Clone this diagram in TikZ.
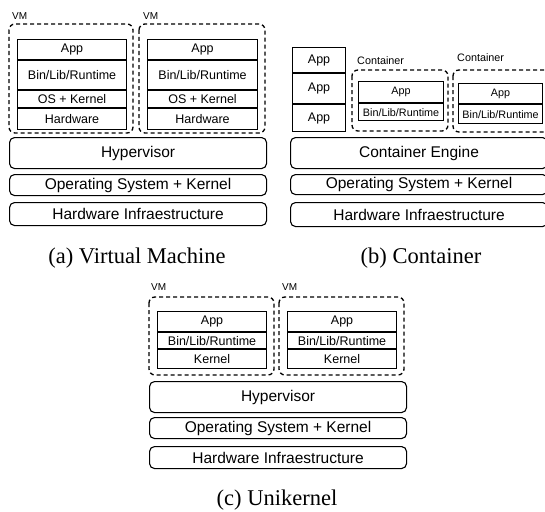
\documentclass[tikz,border=0pt]{standalone}
\usepackage{fontspec}
\setmainfont{Liberation Serif}
\setsansfont{Liberation Sans}
\usetikzlibrary{positioning}
\tikzset{
  layer/.style={draw, rounded corners=5pt, inner sep=0pt, line width=1.1pt,
    minimum width=257pt, font=\sffamily\fontsize{15.5}{17}\selectfont},
  cell/.style={draw, rectangle, inner sep=0pt, line width=1.1pt,
    font=\sffamily\fontsize{12.5}{14}\selectfont},
  ccell/.style={cell, font=\sffamily\fontsize{10.8}{12}\selectfont},
  vmbox/.style={draw, rounded corners=6pt, line width=1.3pt,
    dash pattern=on 4pt off 3pt},
  tag/.style={anchor=west, inner sep=0pt, font=\sffamily\fontsize{10}{11}\selectfont},
  ctag/.style={tag, font=\sffamily\fontsize{10.8}{12}\selectfont},
  caption/.style={font=\fontsize{22.5}{25}\selectfont}
}
\begin{document}
\begin{tikzpicture}[x=1pt, y=-1pt]
  \useasboundingbox (0,0) rectangle (545,511);

  % (a) virtual machine
  \draw[vmbox] (9,24) rectangle (133,133);
  \draw[vmbox] (139,24) rectangle (265,133);
  \node (vm_a1) [tag] at (12,16) {VM};
  \node (vm_a2) [tag] at (143,16) {VM};

  \node (app_a1) [cell, minimum width=109pt, minimum height=20pt, anchor=north west] at (17,39) {App};
  \node (bin_a1) [cell, minimum width=109pt, minimum height=29pt, below=0pt of app_a1] {Bin/Lib/Runtime};
  \node (os_a1) [cell, minimum width=109pt, minimum height=17pt, below=0pt of bin_a1] {OS + Kernel};
  \node (hw_a1) [cell, minimum width=109pt, minimum height=21pt, below=0pt of os_a1] {Hardware};

  \node (app_a2) [cell, minimum width=110pt, minimum height=20pt, anchor=north west] at (147,39) {App};
  \node (bin_a2) [cell, minimum width=110pt, minimum height=29pt, below=0pt of app_a2] {Bin/Lib/Runtime};
  \node (os_a2) [cell, minimum width=110pt, minimum height=17pt, below=0pt of bin_a2] {OS + Kernel};
  \node (hw_a2) [cell, minimum width=110pt, minimum height=21pt, below=0pt of os_a2] {Hardware};

  \node (hyp_a) [layer, minimum height=31pt, anchor=north west] at (9,137) {Hypervisor};
  \node (sys_a) [layer, minimum height=21pt, anchor=north west] at (9,174) {Operating System + Kernel};
  \node (infra_a) [layer, minimum height=23pt, anchor=north west] at (9,202) {Hardware Infraestructure};

  \node (cap_a) [caption] at (137,258) {(a) Virtual Machine};

  % (b) container
  \node (app_b1) [cell, minimum width=53pt, minimum height=25pt, anchor=north west] at (292,47) {App};
  \node (app_b2) [cell, minimum width=53pt, minimum height=30pt, below=0pt of app_b1] {App};
  \node (app_b3) [cell, minimum width=53pt, minimum height=27pt, below=0pt of app_b2] {App};

  \draw[vmbox] (352,70) rectangle (448,131);
  \draw[vmbox] (453,70) rectangle (552,132);
  \node (ct_b1) [ctag] at (357,61) {Container};
  \node (ct_b2) [ctag] at (457,58) {Container};

  \node (capp_b1) [ccell, minimum width=85pt, minimum height=21pt, anchor=north west] at (358,81) {App};
  \node (cbin_b1) [ccell, minimum width=85pt, minimum height=17pt, below=0pt of capp_b1] {Bin/Lib/Runtime};
  \node (capp_b2) [ccell, minimum width=84pt, minimum height=20pt, anchor=north west] at (458,83) {App};
  \node (cbin_b2) [ccell, minimum width=84pt, minimum height=19pt, below=0pt of capp_b2] {Bin/Lib/Runtime};

  \node (eng_b) [layer, minimum height=31pt, anchor=north west] at (290,137) {Container Engine};
  \node (sys_b) [layer, minimum height=20pt, anchor=north west] at (290,174) {Operating System + Kernel};
  \node (infra_b) [layer, minimum height=24pt, anchor=north west] at (290,202) {Hardware Infraestructure};

  \node (cap_b) [caption] at (421,258) {(b) Container};

  % (c) unikernel
  \draw[vmbox] (149,297) rectangle (274,375);
  \draw[vmbox] (279,297) rectangle (404,375);
  \node (vm_c1) [tag] at (151,287) {VM};
  \node (vm_c2) [tag] at (282,287) {VM};

  \node (app_c1) [cell, minimum width=109pt, minimum height=20pt, anchor=north west] at (157,311) {App};
  \node (bin_c1) [cell, minimum width=109pt, minimum height=16pt, below=0pt of app_c1] {Bin/Lib/Runtime};
  \node (ker_c1) [cell, minimum width=109pt, minimum height=19pt, below=0pt of bin_c1] {Kernel};

  \node (app_c2) [cell, minimum width=109pt, minimum height=20pt, anchor=north west] at (287,311) {App};
  \node (bin_c2) [cell, minimum width=109pt, minimum height=16pt, below=0pt of app_c2] {Bin/Lib/Runtime};
  \node (ker_c2) [cell, minimum width=109pt, minimum height=19pt, below=0pt of bin_c2] {Kernel};

  \node (hyp_c) [layer, minimum height=31pt, anchor=north west] at (149,381) {Hypervisor};
  \node (sys_c) [layer, minimum height=21pt, anchor=north west] at (149,417) {Operating System + Kernel};
  \node (infra_c) [layer, minimum height=22pt, anchor=north west] at (149,446) {Hardware Infraestructure};

  \node (cap_c) [caption] at (277,500) {(c) Unikernel};
\end{tikzpicture}
\end{document}
